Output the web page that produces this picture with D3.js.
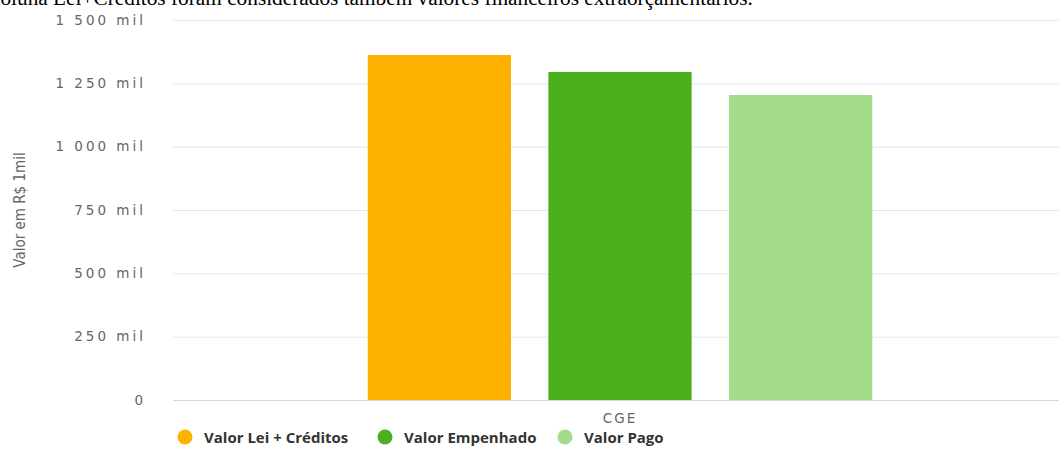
<!DOCTYPE html>
<html>
<head>
<meta charset="utf-8">
<script src="https://cdn.jsdelivr.net/npm/d3@7"></script>
<style>
  body { margin: 0; background: #fff; }
  svg { display: block; }
</style>
</head>
<body>
<div id="chart"></div>
<script>
// data
const categories = ["CGE"];
const seriesNames = ["Valor Lei + Créditos", "Valor Empenhado", "Valor Pago"];
const seriesValues = [1362, 1295, 1204];
const yTicks = [0, 250, 500, 750, 1000, 1250, 1500];
const colors = ["#ffb100", "#4caf1e", "#a5dc8c"];
const noteText = "coluna Lei+Créditos foram considerados também valores financeiros extraorçamentários.";

const W = 1059, H = 470;
const margin = { top: 20, right: -8, bottom: 70, left: 173 };

const svg = d3.select("#chart").append("svg")
  .attr("width", W)
  .attr("height", H);

// note text cut off at the top
svg.append("text")
  .attr("x", -9)
  .attr("y", 4.5)
  .attr("font-family", "Liberation Serif, Times New Roman, serif")
  .attr("font-size", 21.3)
  .attr("fill", "#000")
  .text(noteText);

const y = d3.scaleLinear().domain([0, 1500]).range([H - margin.bottom, margin.top]);
const x0 = d3.scaleBand().domain(categories).range([margin.left, W - margin.right]).padding(0.2785);
const x1 = d3.scaleBand().domain(seriesNames).range([0, x0.bandwidth()]).paddingInner(0.207);

// grid lines
svg.append("g")
  .selectAll("line")
  .data(yTicks.filter(d => d > 0))
  .join("line")
  .attr("x1", margin.left)
  .attr("x2", W)
  .attr("y1", d => y(d) + 0.5)
  .attr("y2", d => y(d) + 0.5)
  .attr("stroke", "#e6e6e6");

// y axis labels
const fmt = d => d === 0 ? "0" : d3.format(",")(d).replace(",", " ") + " mil";
svg.append("g")
  .selectAll("text")
  .data(yTicks)
  .join("text")
  .attr("x", 146)
  .attr("y", d => y(d) + 4.5)
  .attr("text-anchor", "end")
  .attr("font-family", "DejaVu Sans, sans-serif")
  .attr("font-size", 13.5)
  .attr("letter-spacing", 3)
  .attr("fill", "#666")
  .text(fmt);

// y axis title
svg.append("text")
  .attr("transform", "translate(25," + y(750) + ") rotate(-90)")
  .attr("text-anchor", "middle")
  .attr("font-family", "Liberation Sans Narrow, DejaVu Sans Condensed, sans-serif")
  .attr("font-size", 15)
  .attr("fill", "#666")
  .text("Valor em R$ 1mil");

// bars
svg.append("g")
  .selectAll("g")
  .data(categories)
  .join("g")
  .attr("transform", d => "translate(" + x0(d) + ",0)")
  .selectAll("rect")
  .data(seriesNames.map((s, i) => ({ key: s, value: seriesValues[i], i: i })))
  .join("rect")
  .attr("x", d => x1(d.key))
  .attr("y", d => y(d.value))
  .attr("width", x1.bandwidth())
  .attr("height", d => y(0) - y(d.value))
  .attr("fill", d => colors[d.i]);

// x axis line
svg.append("line")
  .attr("x1", margin.left)
  .attr("x2", W)
  .attr("y1", y(0) + 0.5)
  .attr("y2", y(0) + 0.5)
  .attr("stroke", "#ccd6eb");

// x axis label
svg.append("g")
  .selectAll("text")
  .data(categories)
  .join("text")
  .attr("x", d => x0(d) + x0.bandwidth() / 2)
  .attr("y", y(0) + 23)
  .attr("text-anchor", "middle")
  .attr("font-family", "DejaVu Sans, sans-serif")
  .attr("font-size", 13.5)
  .attr("letter-spacing", 2)
  .attr("fill", "#666")
  .text(d => d);

// legend
const legendX = [185, 385, 565];
const legend = svg.append("g").selectAll("g")
  .data(seriesNames)
  .join("g")
  .attr("transform", (d, i) => "translate(" + legendX[i] + ",437)");
legend.append("circle")
  .attr("r", 7.5)
  .attr("fill", (d, i) => colors[i]);
legend.append("text")
  .attr("x", 19)
  .attr("y", 5.5)
  .attr("font-family", "Open Sans, sans-serif")
  .attr("font-weight", "bold")
  .attr("font-size", 15)
  .attr("fill", "#333")
  .text(d => d);
</script>
</body>
</html>
